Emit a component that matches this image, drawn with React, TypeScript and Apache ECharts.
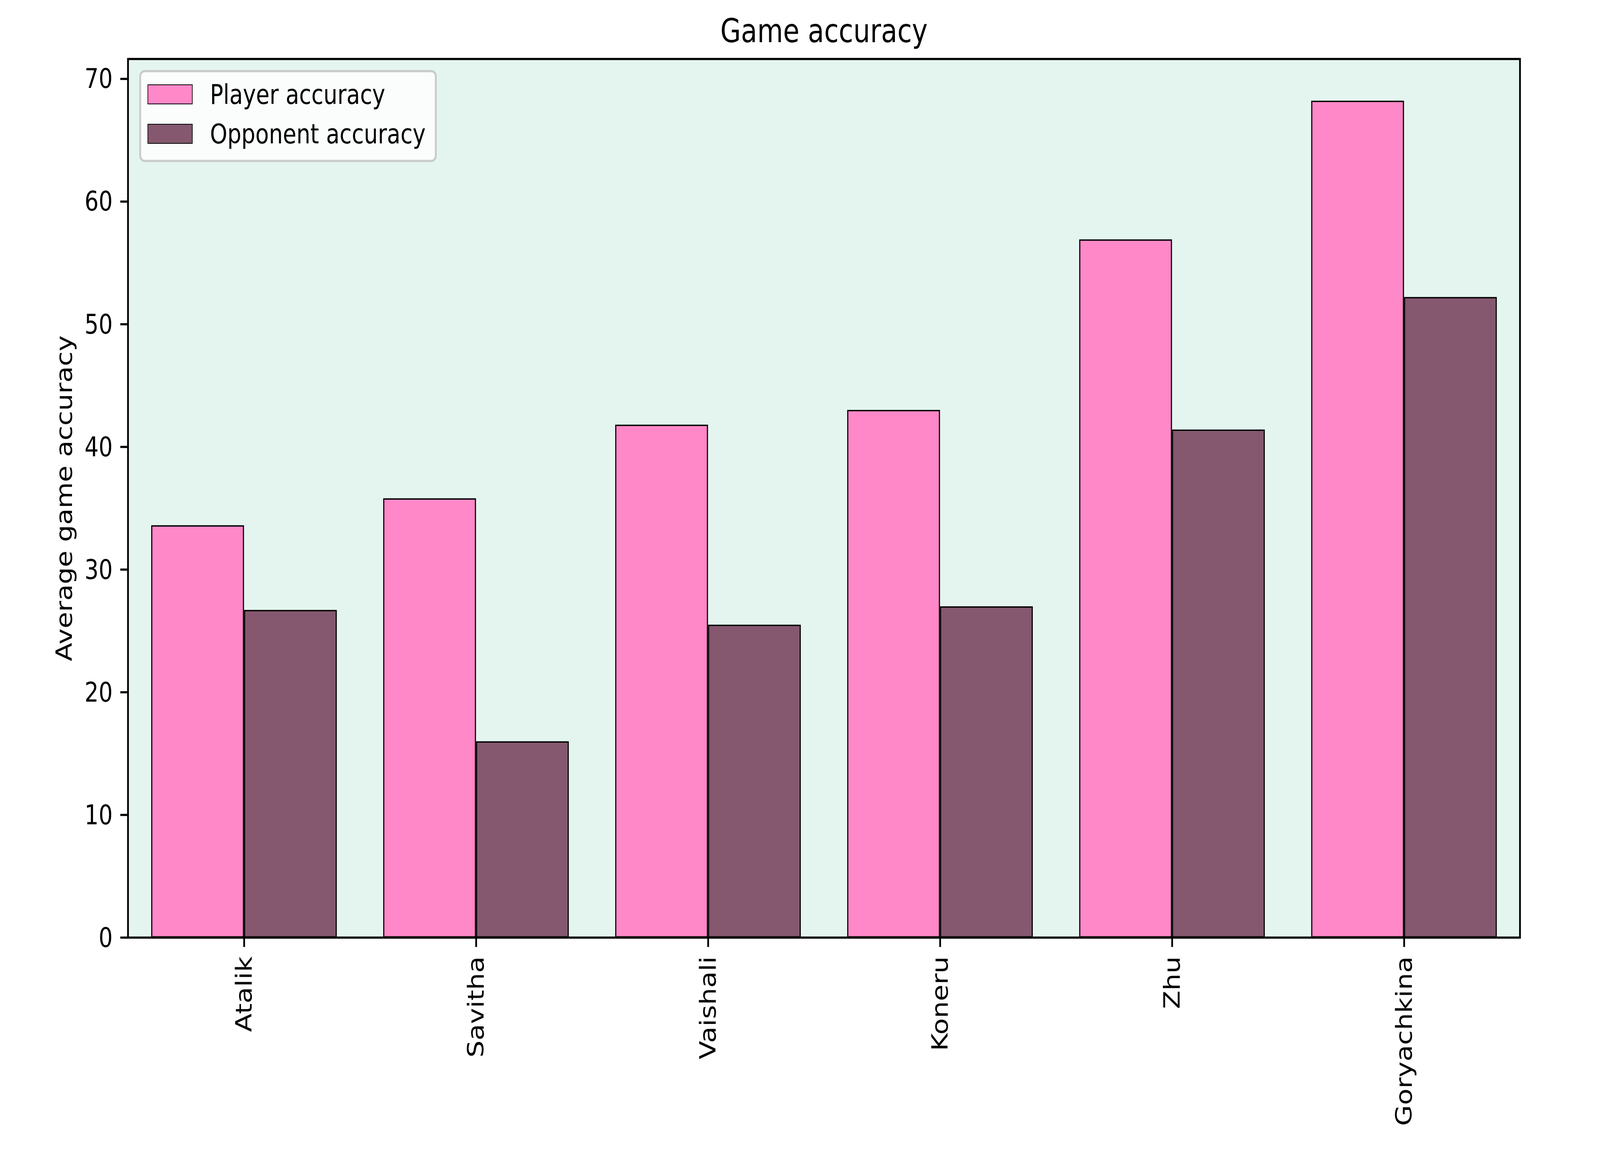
import React, { useEffect, useRef, useState } from "react";
import * as echarts from "echarts";

const categories = ["Atalik", "Savitha", "Vaishali", "Koneru", "Zhu", "Goryachkina"];
const playerAccuracy = [33.6, 35.8, 41.8, 43.0, 56.9, 68.2];
const opponentAccuracy = [26.7, 16.0, 25.5, 27.0, 41.4, 52.2];
const yTicks = [0, 10, 20, 30, 40, 50, 60, 70];
const seriesNames = ["Player accuracy", "Opponent accuracy"];

const FONT = "DejaVu Sans";
const W = 5000;
const H = 3000;

export default function App() {
  const ref = useRef<HTMLDivElement>(null);
  const [sx, setSx] = useState(() =>
    typeof window !== "undefined" ? Math.min(1, window.innerWidth / W) : 1
  );
  useEffect(() => {
    document.body.style.margin = "0";
    document.body.style.overflow = "hidden";
    setSx(Math.min(1, window.innerWidth / W));
    if (!ref.current) return;
    const chart = echarts.init(ref.current, null, { renderer: "svg" });
    const option = {
      animation: false,
      backgroundColor: "#ffffff",
      textStyle: { fontFamily: FONT },
      title: {
        text: "Game accuracy",
        left: 2575,
        top: 38,
        textAlign: "center",
        padding: 0,
        textStyle: { fontFamily: FONT, fontSize: 83, fontWeight: "normal", color: "#000", lineHeight: 83 },
      },
      graphic: [
        {
          type: "rect",
          z: 5,
          shape: { x: 438, y: 182, width: 924, height: 230, r: 14 },
          style: { fill: "rgba(255,255,255,0.8)", stroke: "#cccccc", lineWidth: 6 },
        },
      ],
      legend: {
        data: seriesNames,
        orient: "vertical",
        left: 461,
        top: 207,
        padding: 0,
        z: 10,
        itemWidth: 139,
        itemHeight: 49,
        itemGap: 32,
        icon: "rect",
        selectedMode: false,
        textStyle: { fontFamily: FONT, fontSize: 69, color: "#000", lineHeight: 69, padding: [0, 0, 0, 50] },
      },
      grid: {
        left: 400,
        top: 151,
        width: 4350,
        height: 2249,
        show: true,
        backgroundColor: "#e4f5ef",
        borderColor: "#000",
        borderWidth: 5.5,
        containLabel: false,
      },
      xAxis: {
        type: "category",
        data: categories,
        boundaryGap: true,
        axisLine: { show: false },
        axisTick: { show: true, alignWithLabel: true, length: 24, lineStyle: { color: "#000", width: 5.5 } },
        axisLabel: { rotate: 90, margin: 48, fontFamily: FONT, fontSize: 69, color: "#000" },
        splitLine: { show: false },
      },
      yAxis: {
        type: "value",
        min: 0,
        max: 71.6,
        interval: 10,
        name: "Average game accuracy",
        nameLocation: "middle",
        nameGap: 165,
        nameRotate: 90,
        nameTextStyle: { fontFamily: FONT, fontSize: 69, color: "#000" },
        axisLine: { show: false },
        axisTick: { show: true, length: 24, customValues: yTicks, lineStyle: { color: "#000", width: 5.5 } },
        axisLabel: { margin: 48, fontFamily: FONT, fontSize: 69, color: "#000", customValues: yTicks },
        splitLine: { show: false },
      },
      series: [
        {
          name: seriesNames[0],
          type: "bar",
          data: playerAccuracy,
          barGap: "0%",
          barCategoryGap: "20%",
          itemStyle: { color: "#ff88c8", borderColor: "#000", borderWidth: 3.5 },
        },
        {
          name: seriesNames[1],
          type: "bar",
          data: opponentAccuracy,
          barGap: "0%",
          barCategoryGap: "20%",
          itemStyle: { color: "#85586f", borderColor: "#000", borderWidth: 3.5 },
        },
      ],
    };
    chart.setOption(option as any);
    return () => chart.dispose();
  }, []);
  return (
    <div style={{ width: Math.round(W * sx), height: H, overflow: "hidden", background: "#fff" }}>
      <div
        ref={ref}
        style={{
          width: W,
          height: H,
          background: "#fff",
          transform: `scale(${sx}, 1)`,
          transformOrigin: "0 0",
        }}
      />
    </div>
  );
}
